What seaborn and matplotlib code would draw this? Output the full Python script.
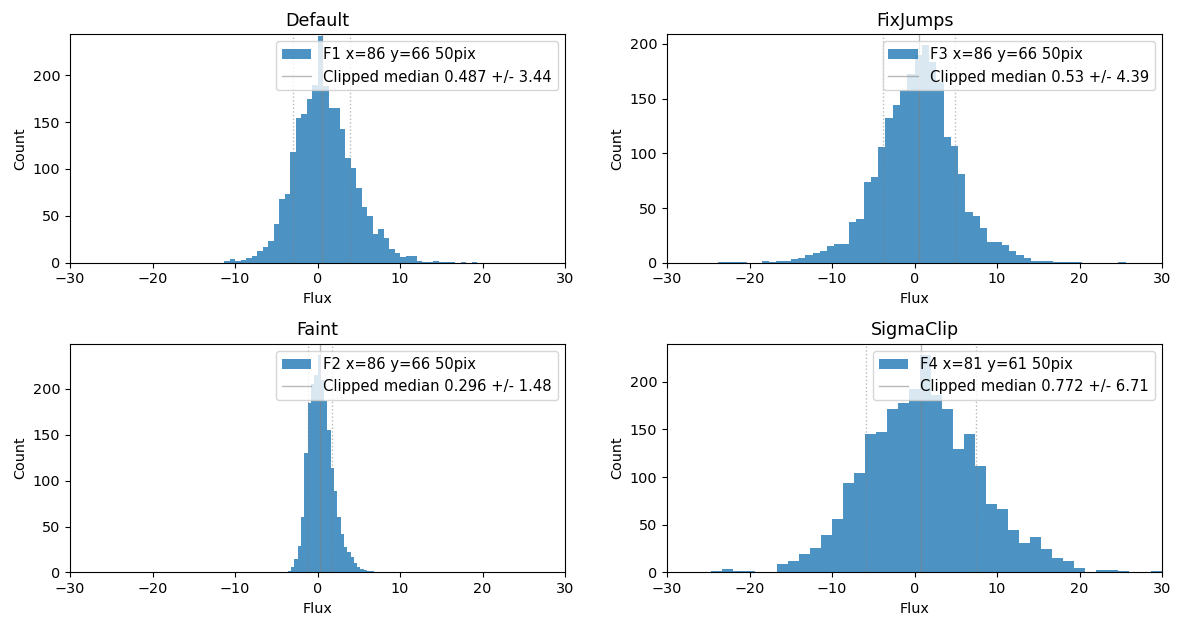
import numpy as np
import pandas as pd
import matplotlib
matplotlib.use("Agg")
import matplotlib.pyplot as plt
import seaborn as sns
from matplotlib.patches import Patch
from matplotlib.lines import Line2D

# Flux histograms: bins span (-30, 30); counts listed from the first populated bin
flux_range = (-30.0, 30.0)

titles = ["Default", "FixJumps", "Faint", "SigmaClip"]
legend_labels = ["F1 x=86 y=66 50pix", "F3 x=86 y=66 50pix",
                 "F2 x=86 y=66 50pix", "F4 x=81 y=61 50pix"]
medians = [0.487, 0.53, 0.296, 0.772]
sigmas = [3.44, 4.39, 1.48, 6.71]
n_bins = [90, 68, 150, 45]
first_bin = [28, 7, 64, 0]
count_limits = [244, 209, 249, 240]

counts_default = [2, 4, 2, 3, 5, 7, 12, 17, 23, 41, 68, 73, 118, 154, 159, 175,
                  190, 242, 188, 165, 165, 143, 112, 101, 80, 59, 50, 31, 36, 26,
                  15, 10, 6, 7, 7, 2, 1, 1, 2, 1, 1, 1, 0, 1, 0, 1]
counts_fixjumps = [1, 1, 1, 1, 0, 0, 2, 1, 2, 2, 3, 4, 7, 9, 11, 15, 17, 17, 37,
                   40, 74, 78, 106, 132, 144, 158, 172, 190, 199, 183, 165, 115,
                   107, 81, 46, 43, 32, 19, 19, 16, 11, 7, 4, 2, 2, 2, 1, 1, 1, 1,
                   0, 0, 0, 0, 0, 1]
counts_faint = [1, 1, 2, 6, 15, 29, 60, 130, 185, 205, 215, 237, 210, 187, 155,
                114, 89, 60, 42, 28, 22, 17, 10, 6, 4, 3, 2, 2, 1, 1, 0, 1, 1, 0,
                1, 0, 1, 0, 0, 0, 0, 1]
counts_sigmaclip = [1, 1, 1, 1, 2, 4, 2, 2, 1, 1, 9, 12, 19, 26, 39, 56, 94, 104,
                    145, 147, 171, 178, 192, 228, 186, 171, 130, 145, 112, 72, 67,
                    45, 31, 37, 25, 15, 12, 5, 1, 3, 3, 2, 1, 1, 2]

all_counts = [counts_default, counts_fixjumps, counts_faint, counts_sigmaclip]

bar_color = "#1f77b4"
bar_alpha = 0.8
line_color = "grey"

plt.rcParams.update({"xtick.labelsize": 10.4, "ytick.labelsize": 10.4})

fig, axes = plt.subplots(2, 2, figsize=(11.77, 6.18), dpi=100)
fig.subplots_adjust(left=0.0595, right=0.9873, top=0.945, bottom=0.0737,
                    wspace=0.206, hspace=0.354)

for ax, title, lab, med, sig, nb, fb, cnt, ylim in zip(
        axes.flat, titles, legend_labels, medians, sigmas, n_bins, first_bin,
        all_counts, count_limits):
    width = (flux_range[1] - flux_range[0]) / nb
    centers = flux_range[0] + (np.arange(fb, fb + len(cnt)) + 0.5) * width
    df = pd.DataFrame({"flux": centers, "count": np.asarray(cnt, dtype=float)})
    sns.histplot(data=df, x="flux", weights="count", bins=nb, binrange=flux_range,
                 ax=ax, color=bar_color, alpha=bar_alpha, linewidth=0,
                 element="bars")
    ax.axvline(med, color=line_color, lw=1, alpha=0.55)
    ax.axvline(med - sig, color=line_color, lw=1, ls=":", alpha=0.55)
    ax.axvline(med + sig, color=line_color, lw=1, ls=":", alpha=0.55)
    ax.set_xlim(flux_range)
    ax.set_ylim(0, ylim)
    ax.set_title(title, fontsize=12.6)
    ax.set_xlabel("Flux", fontsize=10.4)
    ax.set_ylabel("Count", fontsize=10.4)
    handles = [Patch(facecolor=bar_color, alpha=bar_alpha, label=lab),
               Line2D([], [], color=line_color, lw=1, alpha=0.55,
                      label=f"Clipped median {med} +/- {sig}")]
    ax.legend(handles=handles, loc="upper right", fontsize=10.6)

fig.savefig("out.png", dpi=100)
